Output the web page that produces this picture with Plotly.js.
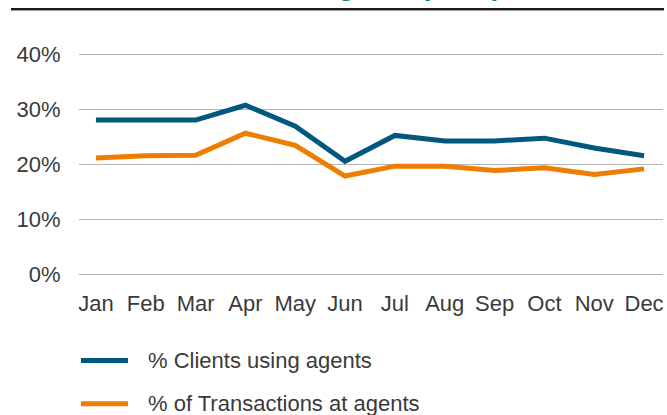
<!DOCTYPE html>
<html>
<head>
<meta charset="utf-8">
<script src="https://cdn.plot.ly/plotly-3.0.1.min.js"></script>
<style>html,body{margin:0;padding:0;background:#fff}#chart{width:667px;height:415px}</style>
</head>
<body>
<div id="chart"></div>
<script>
const months = ["Jan","Feb","Mar","Apr","May","Jun","Jul","Aug","Sep","Oct","Nov","Dec"];
const clientsUsingAgents = [28.1, 28.1, 28.1, 30.8, 27.0, 20.6, 25.3, 24.3, 24.3, 24.8, 23.0, 21.6];
const transactionsAtAgents = [21.2, 21.6, 21.7, 25.7, 23.5, 17.9, 19.7, 19.7, 18.9, 19.4, 18.2, 19.2];
const seriesNames = ["% Clients using agents", "% of Transactions at agents"];
const seriesColors = ["#00587e", "#ef7d00"];
const yTickVals = [0, 10, 20, 30, 40];
const yTickText = ["0%", "10%", "20%", "30%", "40%"];
const titleText = "Use of agents (2016)";

const FONT = "Liberation Sans, Arial, sans-serif";
const TXT = "#3a3a3a";

const traces = [clientsUsingAgents, transactionsAtAgents].map((vals, i) => ({
  type: "scatter", mode: "lines", x: months, y: vals, name: seriesNames[i],
  line: {color: seriesColors[i], width: 5}, showlegend: false, hoverinfo: "skip"
}));

const L = 79, R = 4, T = 52.3, B = 138.3, W = 667, H = 415;
const pw = W - L - R, ph = H - T - B;
const px = x => (x - L) / pw;
const py = y => (H - B - y) / ph;

const shapes = [
  {type: "line", xref: "paper", yref: "paper", x0: px(11), x1: px(664), y0: py(9.5), y1: py(9.5),
   line: {color: "#1a1a1a", width: 2}},
  {type: "line", xref: "paper", yref: "paper", x0: px(11), x1: px(664), y0: py(11), y1: py(11),
   line: {color: "#9a9a9a", width: 1}}
];
const annotations = [
  {xref: "paper", yref: "paper", x: px(503), y: py(3.3), xanchor: "right", yanchor: "bottom",
   showarrow: false, text: "<b>" + titleText + "</b>",
   font: {family: FONT, size: 28, color: "#00827f"}}
];
const legendY = [360, 403];
seriesNames.forEach((n, i) => {
  shapes.push({type: "line", xref: "paper", yref: "paper", x0: px(81), x1: px(128),
    y0: py(legendY[i]), y1: py(legendY[i]), line: {color: seriesColors[i], width: 5}});
  annotations.push({xref: "paper", yref: "paper", x: px(146), y: py(legendY[i]),
    xanchor: "left", yanchor: "middle", showarrow: false, text: n,
    font: {family: FONT, size: 22, color: TXT}});
});

const layout = {
  width: W, height: H,
  margin: {l: L, r: R, t: T, b: B, pad: 0},
  paper_bgcolor: "#fff", plot_bgcolor: "#fff",
  showlegend: false,
  xaxis: {type: "category", range: [-0.34, 11.38], showgrid: false, zeroline: false, showline: false,
    ticks: "outside", ticklen: 7, tickcolor: "rgba(0,0,0,0)",
    tickfont: {family: FONT, size: 22, color: TXT}, fixedrange: true},
  yaxis: {range: [-0.5, 40.5], tickvals: yTickVals, ticktext: yTickText,
    showgrid: true, gridcolor: "#b4b4b4", gridwidth: 1.5, zeroline: false, showline: false,
    ticks: "outside", ticklen: 13, tickcolor: "rgba(0,0,0,0)",
    tickfont: {family: FONT, size: 22, color: TXT}, fixedrange: true},
  shapes: shapes,
  annotations: annotations
};

Plotly.newPlot("chart", traces, layout, {displayModeBar: false, staticPlot: true});
</script>
</body>
</html>
